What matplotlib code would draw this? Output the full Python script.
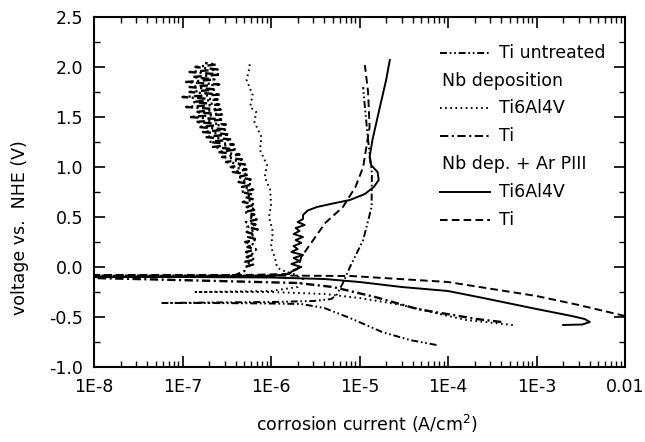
#! /usr/bin/env python3

import matplotlib
matplotlib.use( 'Agg' )
import matplotlib.pyplot as plt
from   matplotlib.ticker import MultipleLocator, FormatStrFormatter
from   matplotlib.lines import Line2D

#----------------------------------------------------------------------------
# Data : current (A/cm^2) and potential (V vs NHE)
#----------------------------------------------------------------------------
# Ti untreated
ti_untr_i = [ 7.4e-5, 3.7e-5, 1.8e-5, 7.8e-6, 4e-6, 2.2e-6, 1e-6, 2e-7, 5.9e-8,
              2e-7, 1e-6, 3e-6, 4.8e-6, 5.5e-6, 6.5e-6, 7.8e-6, 1.1e-5,
              1.37e-5, 1.38e-5, 1.25e-5, 1.15e-5, 1.1e-5 ]
ti_untr_v = [ -0.78, -0.73, -0.65, -0.51, -0.41, -0.37, -0.365, -0.36, -0.36,
              -0.355, -0.35, -0.34, -0.32, -0.28, -0.16, 0.0, 0.27,
              0.6, 0.94, 1.27, 1.6, 1.8 ]

# Nb deposition, Ti6Al4V
nb_tal_i = [ 5.4e-4, 1.6e-4, 8e-5, 3e-5, 1e-5, 4e-6, 1e-6, 1.4e-7, 1e-6, 2e-6,
             2.3e-6, 1.8e-6, 1.3e-6, 1.17e-6, 1.1e-6, 1.0e-6, 1.05e-6, 9.5e-7,
             1.0e-6, 9.8e-7, 8.5e-7, 9e-7, 7.5e-7, 7.8e-7, 6.5e-7, 6.8e-7,
             5.8e-7, 6.2e-7, 5.3e-7, 5.6e-7, 5.8e-7 ]
nb_tal_v = [ -0.58, -0.53, -0.47, -0.38, -0.31, -0.27, -0.25, -0.25, -0.24, -0.2,
             -0.12, -0.07, -0.03, 0.0, 0.1, 0.2, 0.35, 0.5,
             0.62, 0.77, 0.9, 1.02, 1.17, 1.3, 1.45, 1.55,
             1.6, 1.72, 1.87, 1.96, 2.05 ]

# Nb deposition, Ti (cathodic part then noisy anodic part)
nb_ti_i = [ 4e-4, 2.1e-4, 4.5e-5, 1.5e-5, 5e-6, 2e-6, 2.5e-7, 1e-8, 3e-9,
            1e-8, 2e-7, 4e-7, 5e-7,
            5.1e-7, 6.3e-7, 5.0e-7, 6.6e-7, 5.3e-7, 6.5e-7, 5.2e-7, 6.8e-7,
            5.4e-7, 6.4e-7, 5.1e-7, 7.0e-7, 5.5e-7, 6.6e-7, 5.3e-7, 7.1e-7,
            5.4e-7, 6.7e-7, 5.2e-7, 6.9e-7, 5.6e-7, 6.5e-7, 5.0e-7, 6.8e-7,
            5.3e-7, 6.6e-7, 4.8e-7, 6.4e-7, 5.1e-7, 6.2e-7, 4.6e-7, 6.3e-7,
            4.7e-7, 6.1e-7, 4.3e-7, 5.9e-7, 4.2e-7, 5.6e-7, 3.7e-7, 5.3e-7,
            3.5e-7, 5.1e-7, 3.1e-7, 4.7e-7, 2.8e-7, 4.4e-7, 2.5e-7, 4.1e-7,
            2.2e-7, 3.8e-7, 2.0e-7, 3.6e-7, 1.8e-7, 3.4e-7, 1.7e-7, 3.2e-7,
            1.5e-7, 3.1e-7, 1.4e-7, 2.9e-7, 1.2e-7, 2.8e-7, 1.4e-7, 2.7e-7,
            1.1e-7, 2.6e-7, 1.3e-7, 2.5e-7, 1.0e-7, 2.7e-7, 1.2e-7, 2.4e-7,
            1.2e-7, 2.6e-7, 1.1e-7, 2.3e-7, 1.3e-7, 2.7e-7, 1.2e-7, 2.5e-7,
            1.4e-7, 2.4e-7, 1.8e-7 ]
nb_ti_v = [ -0.55, -0.52, -0.42, -0.3, -0.2, -0.16, -0.14, -0.11, -0.105,
            -0.1, -0.095, -0.08, -0.04,
            0.000, 0.025, 0.050, 0.075, 0.100, 0.125, 0.150, 0.175,
            0.200, 0.225, 0.250, 0.275, 0.300, 0.325, 0.350, 0.375,
            0.400, 0.425, 0.450, 0.475, 0.500, 0.525, 0.550, 0.575,
            0.600, 0.625, 0.650, 0.675, 0.700, 0.725, 0.750, 0.775,
            0.800, 0.825, 0.850, 0.875, 0.900, 0.925, 0.950, 0.975,
            1.000, 1.025, 1.050, 1.075, 1.100, 1.125, 1.150, 1.175,
            1.200, 1.225, 1.250, 1.275, 1.300, 1.325, 1.350, 1.375,
            1.400, 1.425, 1.450, 1.475, 1.500, 1.525, 1.550, 1.575,
            1.600, 1.625, 1.650, 1.675, 1.700, 1.725, 1.750, 1.775,
            1.800, 1.825, 1.850, 1.875, 1.900, 1.925, 1.950, 1.975,
            2.000, 2.025, 2.040 ]

# Nb dep. + Ar PIII, Ti6Al4V
pi_tal_i = [ 2e-3, 3.3e-3, 4e-3, 3.5e-3, 2.5e-3, 1e-3, 2.5e-4, 1e-4, 3e-5, 1e-5,
             4e-6, 1e-6, 1e-7, 3e-9, 1e-7, 1e-6, 1.6e-6,
             1.8e-6, 2.2e-6, 1.7e-6, 2.1e-6, 1.8e-6, 2.3e-6, 1.7e-6, 2.0e-6,
             1.8e-6, 2.2e-6, 1.9e-6, 2.3e-6, 1.8e-6, 2.1e-6, 1.9e-6, 2.4e-6,
             2.0e-6, 2.3e-6,
             2.3e-6, 2.6e-6, 3.3e-6, 5e-6, 7.8e-6, 1.15e-5, 1.45e-5, 1.65e-5,
             1.6e-5, 1.35e-5, 1.3e-5, 1.4e-5, 1.7e-5, 2e-5, 2.2e-5 ]
pi_tal_v = [ -0.58, -0.575, -0.55, -0.52, -0.49, -0.42, -0.31, -0.24, -0.2, -0.15,
             -0.12, -0.105, -0.1, -0.1, -0.095, -0.09, -0.07,
             -0.03, 0.0, 0.03, 0.06, 0.09, 0.12, 0.15, 0.18,
             0.21, 0.24, 0.27, 0.30, 0.33, 0.36, 0.39, 0.42,
             0.45, 0.48,
             0.52, 0.565, 0.6, 0.635, 0.67, 0.73, 0.8, 0.87,
             0.95, 1.02, 1.1, 1.27, 1.6, 1.87, 2.07 ]

# Nb dep. + Ar PIII, Ti
pi_ti_i = [ 1e-2, 3e-3, 1e-3, 1e-4, 8e-6, 1e-6, 1e-8, 3e-9, 1e-8, 5e-7, 1.5e-6,
            2e-6, 2.2e-6, 3e-6, 4.1e-6, 6.5e-6, 9e-6, 1.1e-5, 1.3e-5, 1.25e-5,
            1.15e-5 ]
pi_ti_v = [ -0.49, -0.38, -0.29, -0.15, -0.09, -0.085, -0.085, -0.085, -0.08,
            -0.08, -0.07, -0.02, 0.1, 0.27, 0.44, 0.6, 0.8, 1.0, 1.4, 1.75, 2.02 ]

x_ticks  = [ 1e-8, 1e-7, 1e-6, 1e-5, 1e-4, 1e-3, 1e-2 ]
x_labels = [ '1E-8', '1E-7', '1E-6', '1E-5', '1E-4', '1E-3', '0.01' ]

#----------------------------------------------------------------------------
# Line styles
#----------------------------------------------------------------------------
DASHDOTDOT = ( 0, ( 5, 2, 1.2, 2, 1.2, 2 ) )
DOTTED     = ( 0, ( 1.2, 2.5 ) )
DASHDOT    = ( 0, ( 6, 2.5, 1.5, 2.5 ) )
SOLID      = '-'
DASHED     = ( 0, ( 5.5, 3 ) )

#----------------------------------------------------------------------------
def main():
    plt.rcParams['font.family']        = 'DejaVu Sans'
    plt.rcParams['font.size']          = 12.5
    plt.rcParams['lines.scale_dashes'] = False

    fig = plt.figure( figsize = ( 6.45, 4.42 ), dpi = 100 )
    ax  = fig.add_axes( [ 94/645, 1 - 367/442, 531/645, 350/442 ] )

    lw = 1.4
    ax.plot( ti_untr_i, ti_untr_v, color = 'k', lw = lw, ls = DASHDOTDOT )
    ax.plot( nb_tal_i,  nb_tal_v,  color = 'k', lw = lw, ls = DOTTED )
    ax.plot( nb_ti_i,   nb_ti_v,   color = 'k', lw = 1.7, ls = DASHDOT )
    ax.plot( pi_tal_i,  pi_tal_v,  color = 'k', lw = lw, ls = SOLID )
    ax.plot( pi_ti_i,   pi_ti_v,   color = 'k', lw = lw, ls = DASHED )

    ax.set_xscale( 'log' )
    ax.set_xlim( 1e-8, 1e-2 )
    ax.set_ylim( -1.0, 2.5 )

    ax.set_xticks( x_ticks )
    ax.set_xticklabels( x_labels )
    ax.yaxis.set_major_locator( MultipleLocator( 0.5 ) )
    ax.yaxis.set_minor_locator( MultipleLocator( 0.25 ) )
    ax.yaxis.set_major_formatter( FormatStrFormatter( '%.1f' ) )

    ax.tick_params( which = 'both', direction = 'in', top = True,
                    right = True, pad = 8 )
    ax.tick_params( which = 'major', length = 8, width = 1.2 )
    ax.tick_params( which = 'minor', length = 4.5, width = 1.0 )
    for s in ax.spines.values():
        s.set_linewidth( 1.5 )

    ax.set_xlabel( 'corrosion current (A/cm$^2$)' )
    ax.set_ylabel( 'voltage vs.  NHE (V)' )
    ax.xaxis.set_label_coords( 0.514, -0.163 )
    ax.yaxis.set_label_coords( -0.139, 0.397 )
    ax.xaxis.label.set_va( 'center' )
    ax.yaxis.label.set_va( 'center' )

    #-----------------------------------------
    # Legend, drawn by hand so the group headers sit flush left
    rows = [ ( DASHDOTDOT, 'Ti untreated' ),
             ( None,       'Nb deposition' ),
             ( DOTTED,     'Ti6Al4V' ),
             ( DASHDOT,    'Ti' ),
             ( None,       'Nb dep. + Ar PIII' ),
             ( SOLID,      'Ti6Al4V' ),
             ( DASHED,     'Ti' ) ]
    y0, dy = 0.898, 0.0797
    for k, ( ls, label ) in enumerate( rows ):
        y = y0 - k * dy
        if ls is None:
            ax.text( 0.655, y, label, transform = ax.transAxes,
                     va = 'center', ha = 'left' )
        else:
            ax.add_line( Line2D( [ 0.652, 0.746 ], [ y, y ], color = 'k',
                                 lw = lw, ls = ls,
                                 transform = ax.transAxes ) )
            ax.text( 0.763, y, label, transform = ax.transAxes,
                     va = 'center', ha = 'left' )

    fig.savefig( 'out.png', dpi = 100 )

#----------------------------------------------------------------------------
if __name__ == "__main__":
    main()
